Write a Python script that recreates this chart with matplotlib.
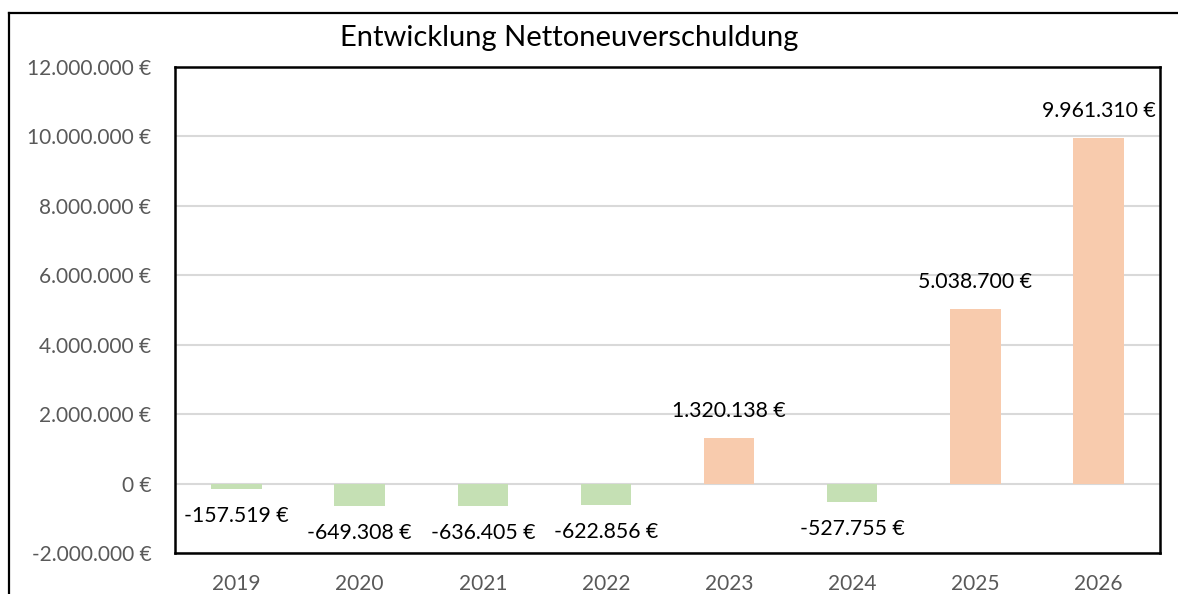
import matplotlib.pyplot as plt
from matplotlib.lines import Line2D
from matplotlib.ticker import FuncFormatter

# Data
jahre = ['2019', '2020', '2021', '2022', '2023', '2024', '2025', '2026']
werte = [-157519, -649308, -636405, -622856, 1320138, -527755, 5038700, 9961310]

plt.rcParams['font.family'] = ['Lato', 'DejaVu Sans']


def euro(v):
    s = f"{abs(int(round(v))):,}".replace(',', '.')
    return ('-' if v < 0 else '') + s + ' €'


fig = plt.figure(figsize=(11.78, 5.94), dpi=100)
ax = fig.add_axes([175 / 1178, 1 - 553 / 594, 985 / 1178, 486 / 594])

farben = ['#c5e0b4' if v < 0 else '#f8cbad' for v in werte]
x = range(len(jahre))
ax.bar(x, werte, width=0.41, color=farben, zorder=3)

for xi, v in zip(x, werte):
    ax.annotate(euro(v), (xi, v), xytext=(0, 19.5 if v > 0 else -19.5),
                textcoords='offset points', ha='center', va='center',
                fontsize=15.3, color='black')

ax.set_xlim(-0.5, len(jahre) - 0.5)
ax.set_ylim(-2000000, 12000000)
ax.set_yticks(range(-2000000, 12000001, 2000000))
ax.yaxis.set_major_formatter(FuncFormatter(lambda v, p: euro(v)))
ax.set_xticks(list(x))
ax.set_xticklabels(jahre)
ax.tick_params(axis='y', length=0, pad=17, labelsize=15, labelcolor='#595959')
ax.tick_params(axis='x', length=0, pad=15, labelsize=15, labelcolor='#595959')
ax.grid(axis='y', color='#d9d9d9', linewidth=1.5, zorder=0)

for sp in ax.spines.values():
    sp.set_linewidth(1.8)
    sp.set_color('black')

# outer chart frame (only top and left edge visible)
x0, y0 = 8.5 / 1178, 1 - 12.5 / 594
fig.add_artist(Line2D([x0, 1.0], [y0, y0], transform=fig.transFigure,
                      color='black', linewidth=1.6))
fig.add_artist(Line2D([x0, x0], [0.0, y0], transform=fig.transFigure,
                      color='black', linewidth=1.6))

fig.text(569 / 1178, 1 - 38 / 594, 'Entwicklung Nettoneuverschuldung',
         ha='center', va='center', fontsize=21)

plt.savefig('out.png', dpi=100)
